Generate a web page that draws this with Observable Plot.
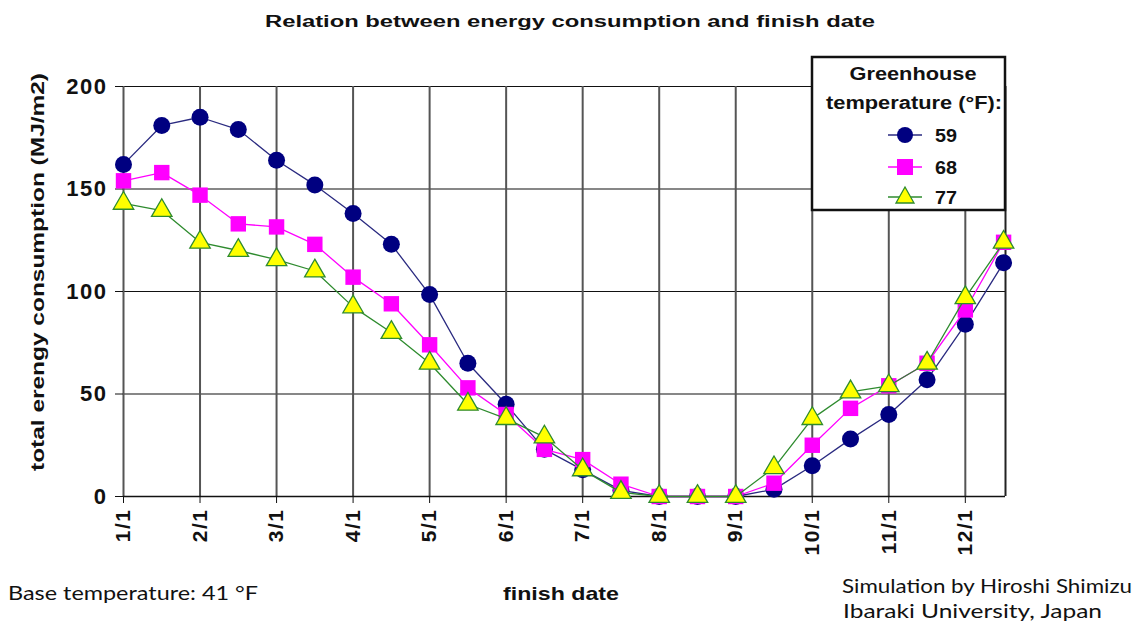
<!DOCTYPE html>
<html><head><meta charset="utf-8">
<script src="https://cdn.jsdelivr.net/npm/d3@7"></script>
<script src="https://cdn.jsdelivr.net/npm/@observablehq/plot@0.6"></script>
<style>
body{margin:0;background:#fff;}
#wrap{position:relative;width:1139px;height:627px;overflow:hidden;background:#fff;}
#wrap > svg{position:absolute;left:0;top:0;}
#overlay{pointer-events:none;}
</style></head><body><div id="wrap"></div>
<script>
// finish dates at half-month steps
const finishDates = ["1/1","1/15","2/1","2/15","3/1","3/15","4/1","4/15","5/1","5/15","6/1","6/15",
  "7/1","7/15","8/1","8/15","9/1","9/15","10/1","10/15","11/1","11/15","12/1","12/15"];
const monthLabels = ["1/1","2/1","3/1","4/1","5/1","6/1","7/1","8/1","9/1","10/1","11/1","12/1"];
const temp59 = [162,181,185,179,164,152,138,123,98.5,65,45,23,13,3,0,0,0,3.5,15,28,40,57,84,114];
const temp68 = [154,158,147,133,131.5,123,107,94,74,53,40,23,18,6,0,0,0,6.5,25,43,54,65,91,124];
const temp77 = [143,139.5,124,120,115.5,110,92.5,80,65,45,38,29,13,2,0,0,0,14,38,51,54,65,97,124];
const yTicks = [0,50,100,150,200];
const gridY = [50,100,150,200];
const legendTitle = ["Greenhouse","temperature (°F):"];
const seriesNames = ["59","68","77"];

const rows = finishDates.map((d,i)=>({i, d, t59: temp59[i], t68: temp68[i], t77: temp77[i]}));
const monthIdx = monthLabels.map((m,k)=>k*2);
const xMax = 23.05;

const navy = "#000080", navyLine = "#2a2a80";
const magenta = "#ff00ff";
const yellow = "#ffff00", green = "#2e8b2e";

const chart = Plot.plot({
  width: 1139, height: 627,
  marginLeft: 123, marginRight: 134, marginTop: 86, marginBottom: 131,
  style: "font-family:'Liberation Sans',Arial,sans-serif;font-weight:bold;color:#111;background:transparent;",
  x: {domain: [0, xMax]},
  y: {domain: [0, 200]},
  marks: [
    Plot.ruleY(gridY, {x1: 0, x2: xMax, stroke: "#111", strokeWidth: 1.2}),
    Plot.ruleX(monthIdx, {y1: 0, y2: 200, stroke: "#555", strokeWidth: 2}),
    Plot.ruleX([xMax], {y1: 0, y2: 200, stroke: "#222", strokeWidth: 2}),
    Plot.ruleY([0], {x1: 0, x2: xMax, stroke: "#111", strokeWidth: 1.5}),
    Plot.axisY({ticks: yTicks, tickSize: 8, tickPadding: 8, label: null, stroke: "#111", fontSize: 21}),
    Plot.axisX({ticks: monthIdx, tickFormat: i => monthLabels[i/2], tickRotate: -90, tickSize: 7, tickPadding: 5, label: null, stroke: "#111", fontSize: 20}),
    Plot.line(rows, {x: "i", y: "t59", stroke: navyLine, strokeWidth: 1.3}),
    Plot.dot(rows, {x: "i", y: "t59", symbol: "circle", r: 8.5, fill: navy}),
    Plot.line(rows, {x: "i", y: "t68", stroke: magenta, strokeWidth: 1.3}),
    Plot.dot(rows, {x: "i", y: "t68", symbol: "square", r: 8.7, fill: magenta}),
    Plot.line(rows, {x: "i", y: "t77", stroke: green, strokeWidth: 1.3}),
    Plot.dot(rows, {x: "i", y: "t77", symbol: "triangle", r: 7.6, fill: yellow, stroke: green, strokeWidth: 1.3})
  ]
});
const wrap = document.getElementById("wrap");
wrap.appendChild(chart);
// enlarge tick labels (wide, bold like the original)
d3.select(chart).selectAll("g[aria-label='y-axis tick label'] text")
  .style("font-size", "22px").style("letter-spacing", "1.5px").style("font-weight", "bold");
d3.select(chart).selectAll("g[aria-label='x-axis tick label'] text")
  .style("font-size", "21px").style("letter-spacing", "1.5px").style("font-weight", "bold");

// overlay texts and legend
const ns = "http://www.w3.org/2000/svg";
const ov = document.createElementNS(ns, "svg");
ov.setAttribute("id","overlay");
ov.setAttribute("width",1139); ov.setAttribute("height",627);
wrap.appendChild(ov);
function txt(s, x, y, o) {
  const t = document.createElementNS(ns, "text");
  t.textContent = s;
  t.setAttribute("x", x); t.setAttribute("y", y);
  t.setAttribute("font-family", o.family || "'Liberation Sans',Arial,sans-serif");
  t.setAttribute("font-size", o.size);
  t.setAttribute("font-weight", o.weight || "normal");
  t.setAttribute("fill", o.fill || "#111");
  if (o.anchor) t.setAttribute("text-anchor", o.anchor);
  if (o.len) { t.setAttribute("textLength", o.len); t.setAttribute("lengthAdjust", "spacingAndGlyphs"); }
  if (o.transform) t.setAttribute("transform", o.transform);
  ov.appendChild(t);
  return t;
}
const thin = "'Lato','Open Sans',sans-serif";
txt("Relation between energy consumption and finish date", 265, 27, {size: 16, weight: "bold", len: 610});
txt("total erengy consumption (MJ/m2)", 0, 0, {size: 19, weight: "bold", anchor: "middle", len: 398, transform: "translate(44,272) rotate(-90)"});
txt("Base temperature: 41 °F", 8, 600, {size: 20, family: thin, len: 250});
txt("finish date", 503, 600, {size: 19, weight: "bold", len: 116});
txt("Simulation by Hiroshi Shimizu", 842, 593, {size: 19, family: thin, len: 290});
txt("Ibaraki University, Japan", 843, 618, {size: 19, family: thin, len: 259});

// legend box
const box = document.createElementNS(ns, "rect");
box.setAttribute("x", 812); box.setAttribute("y", 57); box.setAttribute("width", 193); box.setAttribute("height", 153);
box.setAttribute("fill", "#fff"); box.setAttribute("stroke", "#111"); box.setAttribute("stroke-width", 2.5);
ov.appendChild(box);
txt(legendTitle[0], 913, 80, {size: 18, weight: "bold", anchor: "middle", len: 127});
txt(legendTitle[1], 914, 109, {size: 18, weight: "bold", anchor: "middle", len: 176});
const legY = [135, 167, 197];
const legStroke = [navyLine, magenta, green];
seriesNames.forEach((s, k) => {
  const y = legY[k];
  const l = document.createElementNS(ns, "line");
  l.setAttribute("x1", 888); l.setAttribute("x2", 922); l.setAttribute("y1", y); l.setAttribute("y2", y);
  l.setAttribute("stroke", legStroke[k]); l.setAttribute("stroke-width", 1.3);
  ov.appendChild(l);
  let m;
  if (k === 0) {
    m = document.createElementNS(ns, "circle");
    m.setAttribute("cx", 905); m.setAttribute("cy", y); m.setAttribute("r", 8); m.setAttribute("fill", navy);
  } else if (k === 1) {
    m = document.createElementNS(ns, "rect");
    m.setAttribute("x", 897); m.setAttribute("y", y-8); m.setAttribute("width", 16); m.setAttribute("height", 16); m.setAttribute("fill", magenta);
  } else {
    m = document.createElementNS(ns, "path");
    m.setAttribute("d", `M905,${y-10}L914,${y+6}L896,${y+6}Z`);
    m.setAttribute("fill", yellow); m.setAttribute("stroke", green); m.setAttribute("stroke-width", 1.3);
  }
  ov.appendChild(m);
  txt(s, 935, y+7, {size: 19, weight: "bold", len: 22});
});
</script></body></html>
